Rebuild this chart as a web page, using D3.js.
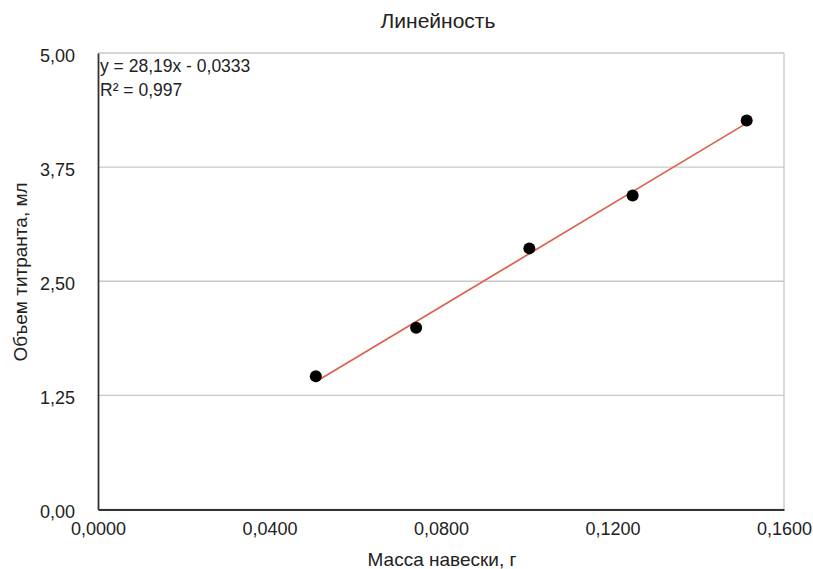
<!DOCTYPE html>
<html>
<head>
<meta charset="utf-8">
<script src="https://cdn.jsdelivr.net/npm/d3@7"></script>
<style>
  body { margin: 0; background: #fff; }
  text { font-family: "Liberation Sans", Arial, sans-serif; fill: #222; }
</style>
</head>
<body>
<div id="chart"></div>
<script>
// sample mass (g) and titrant volume (ml)
const massValues = [0.0508, 0.0742, 0.1006, 0.1247, 0.1513];
const volumeValues = [1.46, 1.99, 2.86, 3.44, 4.26];
const xTicks = [0, 0.04, 0.08, 0.12, 0.16];
const yTicks = [0, 1.25, 2.5, 3.75, 5];
const slope = 28.19, intercept = -0.0333;

const width = 813, height = 569;
const margin = { top: 53, right: 29, bottom: 59.5, left: 98 };

const svg = d3.select("#chart").append("svg")
    .attr("width", width)
    .attr("height", height);

const x = d3.scaleLinear().domain([0, 0.16]).range([margin.left, width - margin.right]);
const y = d3.scaleLinear().domain([0, 5]).range([height - margin.bottom, margin.top]);

const fmtX = v => d3.format(".4f")(v).replace(".", ",");
const fmtY = v => d3.format(".2f")(v).replace(".", ",");

// gridlines
svg.append("g")
    .selectAll("line")
    .data(yTicks)
    .join("line")
    .attr("x1", x(0)).attr("x2", x(0.16))
    .attr("y1", d => y(d)).attr("y2", d => y(d))
    .attr("stroke", "#c8c8c8")
    .attr("stroke-width", 1.3);

// right border
svg.append("line")
    .attr("x1", x(0.16)).attr("x2", x(0.16))
    .attr("y1", y(5)).attr("y2", y(0))
    .attr("stroke", "#c8c8c8")
    .attr("stroke-width", 1.3);

// axes
const xAxis = svg.append("g")
    .attr("transform", `translate(0,${y(0)})`)
    .call(d3.axisBottom(x).tickValues(xTicks).tickFormat(fmtX).tickSize(0));
xAxis.select(".domain").attr("stroke", "#333").attr("stroke-width", 1.8);
xAxis.selectAll("text").style("font-size", "18px").attr("fill", "#333")
    .attr("y", 25).attr("dy", 0);

const yAxis = svg.append("g")
    .attr("transform", `translate(${x(0)},0)`)
    .call(d3.axisLeft(y).tickValues(yTicks).tickFormat(fmtY).tickSize(0).tickPadding(23));
yAxis.select(".domain").attr("stroke", "#333").attr("stroke-width", 1.8);
yAxis.selectAll("text").style("font-size", "18px").attr("fill", "#333").attr("dy", "0.47em");

// trendline
const xMin = d3.min(massValues), xMax = d3.max(massValues);
svg.append("line")
    .attr("x1", x(xMin)).attr("y1", y(slope * xMin + intercept))
    .attr("x2", x(xMax)).attr("y2", y(slope * xMax + intercept))
    .attr("stroke", "#e0604a")
    .attr("stroke-width", 1.7);

// points
svg.append("g")
    .selectAll("circle")
    .data(massValues)
    .join("circle")
    .attr("cx", d => x(d))
    .attr("cy", (d, i) => y(volumeValues[i]))
    .attr("r", 6)
    .attr("fill", "#000");

// equation
svg.append("text").attr("x", x(0) + 2).attr("y", 72)
    .style("font-size", "17.5px").text("y = 28,19x - 0,0333");
svg.append("text").attr("x", x(0) + 2).attr("y", 96)
    .style("font-size", "17.5px").text("R² = 0,997");

// titles
svg.append("text").attr("x", 438).attr("y", 28)
    .attr("text-anchor", "middle").style("font-size", "21px").text("Линейность");
svg.append("text").attr("x", 442).attr("y", 566)
    .attr("text-anchor", "middle").style("font-size", "19px").text("Масса навески, г");
svg.append("text")
    .attr("transform", `translate(27,272) rotate(-90)`)
    .attr("text-anchor", "middle").style("font-size", "19px").text("Объем титранта, мл");
</script>
</body>
</html>
